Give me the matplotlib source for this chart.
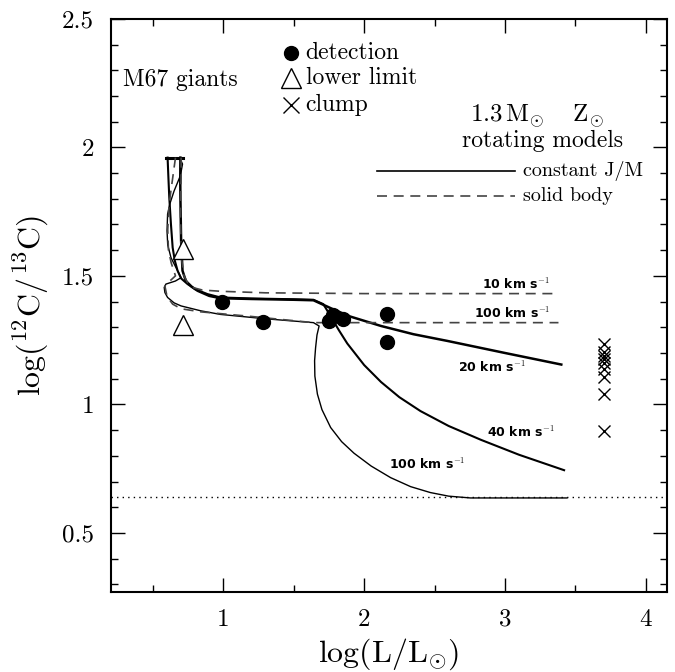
import matplotlib
matplotlib.use("Agg")
import matplotlib.pyplot as plt
from matplotlib.ticker import FixedLocator, MultipleLocator, FuncFormatter

plt.rcParams['font.family'] = ['cmr10', 'DejaVu Serif']
plt.rcParams['mathtext.fontset'] = 'cm'
plt.rcParams['axes.formatter.use_mathtext'] = True

# observations
det_x = [0.99, 1.28, 1.78, 1.75, 1.85, 2.16, 2.16]
det_y = [1.40, 1.32, 1.347, 1.324, 1.332, 1.353, 1.243]
low_x = [0.71, 0.71]
low_y = [1.606, 1.31]
clump_x = [3.70, 3.70, 3.70, 3.70, 3.70, 3.70, 3.70, 3.70, 3.70]
clump_y = [1.235, 1.204, 1.189, 1.177, 1.161, 1.138, 1.107, 1.041, 0.897]

# ZAMS bar at top of tracks
zams_x = [0.59, 0.71]
zams_y = [1.96, 1.96]

# constant J/M tracks
j20_x = [0.695, 0.694, 0.695, 0.70, 0.71, 0.734, 0.775, 0.817, 0.90, 0.98, 1.2, 1.5, 1.64,
         1.70, 1.78, 1.9, 2.12, 2.35, 2.59, 3.0, 3.40]
j20_y = [1.96, 1.88, 1.805, 1.636, 1.52, 1.48, 1.458, 1.442, 1.422, 1.413, 1.41, 1.407, 1.405,
         1.39, 1.37, 1.342, 1.305, 1.273, 1.247, 1.20, 1.155]
j40_x = [0.604, 0.61, 0.616, 0.628, 0.64, 0.655, 0.675, 0.70, 0.746, 0.80, 0.888, 0.98,
         1.2, 1.5, 1.64, 1.71, 1.76, 1.82, 1.88, 2.0, 2.12, 2.25, 2.40, 2.6, 2.83, 3.1, 3.42]
j40_y = [1.96, 1.88, 1.805, 1.70, 1.61, 1.56, 1.52, 1.49, 1.468, 1.448, 1.429, 1.416,
         1.412, 1.409, 1.407, 1.39, 1.345, 1.289, 1.237, 1.153, 1.087, 1.028, 0.974, 0.916,
         0.862, 0.804, 0.744]
j100_x = [0.69, 0.71, 0.695, 0.65, 0.62, 0.604, 0.60, 0.605, 0.628, 0.675, 0.70, 0.66,
          0.592, 0.58, 0.585, 0.604, 0.65, 0.70, 0.84, 0.98, 1.3, 1.64, 1.68, 1.665,
          1.655, 1.648, 1.65, 1.668, 1.70, 1.762, 1.84, 1.928, 2.05, 2.188, 2.33, 2.47,
          2.6, 2.755, 3.0, 3.44]
j100_y = [1.96, 1.935, 1.89, 1.83, 1.78, 1.74, 1.675, 1.62, 1.571, 1.52, 1.493, 1.48,
          1.468, 1.455, 1.435, 1.416, 1.395, 1.383, 1.364, 1.35, 1.333, 1.318, 1.305, 1.27,
          1.22, 1.17, 1.11, 1.04, 0.98, 0.91, 0.855, 0.81, 0.76, 0.715, 0.68, 0.657,
          0.643, 0.636, 0.636, 0.636]

# solid body tracks
s10_x = [0.70, 0.70, 0.695, 0.698, 0.705, 0.72, 0.75, 0.78, 0.85, 0.98, 1.3, 2.0, 3.38]
s10_y = [1.96, 1.88, 1.78, 1.66, 1.56, 1.50, 1.47, 1.455, 1.445, 1.44, 1.434, 1.431, 1.431]
s100_x = [0.66, 0.64, 0.615, 0.605, 0.61, 0.63, 0.66, 0.62, 0.585, 0.60, 0.64, 0.70,
          0.84, 1.2, 1.64, 2.0, 3.38]
s100_y = [1.96, 1.88, 1.78, 1.68, 1.60, 1.55, 1.50, 1.48, 1.46, 1.42, 1.39, 1.372,
          1.36, 1.342, 1.318, 1.318, 1.318]

cno_y = 0.64

vel_labels = ['10 km s$^{-1}$', '100 km s$^{-1}$', '20 km s$^{-1}$', '40 km s$^{-1}$', '100 km s$^{-1}$']
vel_lx = [3.08, 3.05, 2.91, 3.11, 2.45]
vel_ly = [1.468, 1.353, 1.143, 0.89, 0.765]

xticks = [1, 2, 3, 4]
yticks = [0.5, 1, 1.5, 2, 2.5]

fig = plt.figure(figsize=(6.75, 6.72), dpi=100)
ax = fig.add_axes([0.164, 0.119, 0.824, 0.853])

ax.plot(zams_x, zams_y, color='k', lw=2.2)
ax.plot(j20_x, j20_y, color='k', lw=1.8)
ax.plot(j40_x, j40_y, color='k', lw=1.5)
ax.plot(j100_x, j100_y, color='k', lw=1.0)
ax.plot(s10_x, s10_y, color='#444444', lw=1.2, ls=(0, (6, 4)))
ax.plot(s100_x, s100_y, color='#444444', lw=1.2, ls=(0, (6, 4)))
ax.axhline(cno_y, color='k', lw=1.0, ls=(0, (1, 3)))

ax.plot(det_x, det_y, 'o', color='k', ms=10)
ax.plot(low_x, low_y, '^', mfc='white', mec='k', ms=14, mew=1.0)
ax.plot(clump_x, clump_y, 'x', color='k', ms=9, mew=1.0)

for lab, lx, ly in zip(vel_labels, vel_lx, vel_ly):
    ax.text(lx, ly, lab, fontsize=9, fontweight='bold', family='DejaVu Sans',
            ha='center', va='center')

# legend of symbols
ax.plot([1.48], [2.368], 'o', color='k', ms=10)
ax.text(1.585, 2.368, 'detection', fontsize=17, va='center')
ax.plot([1.48], [2.27], '^', mfc='white', mec='k', ms=14, mew=1.0)
ax.text(1.585, 2.27, 'lower limit', fontsize=17, va='center')
ax.plot([1.48], [2.165], 'x', color='k', ms=12, mew=1.0)
ax.text(1.585, 2.165, 'clump', fontsize=17, va='center')

ax.text(0.29, 2.263, 'M67 giants', fontsize=17, va='center')
ax.text(3.23, 2.12, r'$1.3\,\mathrm{M}_{\odot}\quad\;\mathrm{Z}_{\odot}$', fontsize=18,
        ha='center', va='center')
ax.text(3.27, 2.025, 'rotating models', fontsize=17, ha='center', va='center')
ax.plot([2.09, 3.07], [1.909, 1.909], color='k', lw=1.2)
ax.text(3.13, 1.909, 'constant J/M', fontsize=14.5, va='center')
ax.plot([2.09, 3.07], [1.81, 1.81], color='#444444', lw=1.2, ls=(0, (6, 4)))
ax.text(3.13, 1.81, 'solid body', fontsize=14.5, va='center')

ax.set_xlim(0.2, 4.15)
ax.set_ylim(0.27, 2.5)
ax.xaxis.set_major_locator(FixedLocator(xticks))
ax.yaxis.set_major_locator(FixedLocator(yticks))
ax.xaxis.set_minor_locator(MultipleLocator(0.5))
ax.yaxis.set_minor_locator(MultipleLocator(0.1))
fmt = FuncFormatter(lambda v, p: '%g' % v)
ax.xaxis.set_major_formatter(fmt)
ax.yaxis.set_major_formatter(fmt)
ax.tick_params(which='both', direction='in', top=True, right=True, labelsize=18, width=1.0)
ax.tick_params(which='major', length=10, pad=12)
ax.tick_params(which='minor', length=5)
for s in ax.spines.values():
    s.set_linewidth(1.5)

ax.set_xlabel(r'$\log(\mathrm{L}/\mathrm{L}_{\odot})$', fontsize=23, labelpad=4)
ax.set_ylabel(r'$\log(^{12}\mathrm{C}/^{13}\mathrm{C})$', fontsize=23, labelpad=8)

fig.savefig('out.png', dpi=100)
